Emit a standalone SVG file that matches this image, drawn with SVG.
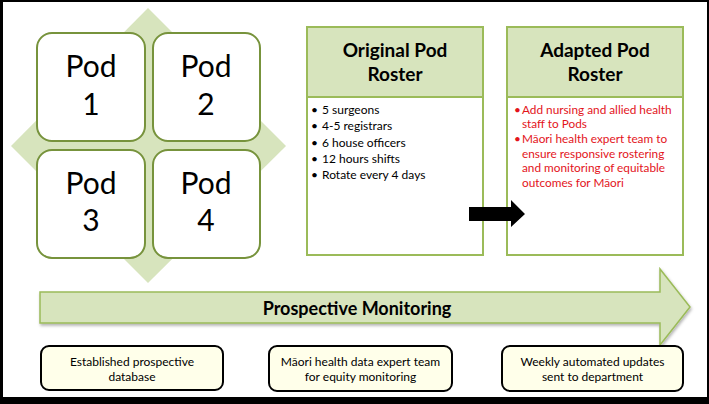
<svg xmlns="http://www.w3.org/2000/svg" width="709" height="404" viewBox="0 0 709 404">
<defs>
<style>
.pod{fill:#FFFFFF;stroke:#77933C;stroke-width:2}
.podt{font-family:Lato,"Open Sans",sans-serif;font-size:30px;fill:#000;text-anchor:middle}
.hdr{fill:#D7E4BD;stroke:#9BBB59;stroke-width:2}
.body{fill:#fff;stroke:#9BBB59;stroke-width:2}
.ht{font-family:Lato,"Open Sans",sans-serif;font-size:19px;font-weight:bold;fill:#000;text-anchor:middle}
.li{font-family:Lato,"Open Sans",sans-serif;font-size:12px;fill:#000}
.lr{font-family:Lato,"Open Sans",sans-serif;font-size:11.8px;fill:#E3141B}
.bx{fill:#FFFFEA;stroke:#000;stroke-width:2}
.bt{font-family:Lato,"Open Sans",sans-serif;font-size:12px;fill:#000;text-anchor:middle}
</style>
<filter id="sh" x="-5%" y="-20%" width="110%" height="150%">
<feDropShadow dx="1" dy="2" stdDeviation="1.5" flood-color="#000" flood-opacity="0.3"/>
</filter>
</defs>
<rect x="0" y="0" width="709" height="404" fill="#000"/>
<rect x="3" y="2" width="704" height="395" fill="#fff"/>

<g id="diamond">
<polygon points="148,8 286,146 148,283 11,146" fill="#D7E4BD"/>
</g>
<g id="pod1">
<rect class="pod" x="37" y="33" width="108" height="108" rx="15" fill="#FFFFFF"/>
<text class="podt" x="91" y="77">Pod</text>
<text class="podt" x="91" y="115">1</text>
</g>
<g id="pod2">
<rect class="pod" x="153" y="33" width="107" height="108" rx="15" fill="#FFFFFF"/>
<text class="podt" x="206" y="77">Pod</text>
<text class="podt" x="206" y="115">2</text>
</g>
<g id="pod3">
<rect class="pod" x="37" y="150" width="108" height="108" rx="15" fill="#FFFFFF"/>
<text class="podt" x="91" y="194">Pod</text>
<text class="podt" x="91" y="231">3</text>
</g>
<g id="pod4">
<rect class="pod" x="153" y="150" width="107" height="108" rx="15" fill="#FFFFFF"/>
<text class="podt" x="206" y="194">Pod</text>
<text class="podt" x="206" y="231">4</text>
</g>

<g id="original">
<rect class="body" x="307" y="97" width="176" height="158"/>
<rect class="hdr" x="307" y="27" width="176" height="70"/>
<text class="ht" x="395" y="57">Original Pod</text>
<text class="ht" x="395" y="81">Roster</text>
<g class="li">
<text x="311" y="114">•</text><text x="322" y="114">5 surgeons</text>
<text x="311" y="130">•</text><text x="322" y="130">4-5 registrars</text>
<text x="311" y="146.5">•</text><text x="322" y="146.5">6 house officers</text>
<text x="311" y="163">•</text><text x="322" y="163">12 hours shifts</text>
<text x="311" y="179">•</text><text x="322" y="179">Rotate every 4 days</text>
</g>
</g>

<g id="adapted">
<rect class="body" x="507" y="97" width="176" height="158"/>
<rect class="hdr" x="507" y="27" width="176" height="70"/>
<text class="ht" x="595" y="57">Adapted Pod</text>
<text class="ht" x="595" y="81">Roster</text>
<g class="lr">
<text x="514" y="114">•</text><text x="522" y="114">Add nursing and allied health</text>
<text x="522" y="128">staff to Pods</text>
<text x="514" y="143">•</text><text x="522" y="143">Māori health expert team to</text>
<text x="522" y="158">ensure responsive rostering</text>
<text x="522" y="172">and monitoring of equitable</text>
<text x="522" y="186.5">outcomes for Māori</text>
</g>
</g>

<g id="connectors">
<polygon points="469,207 511,207 511,200 525,214 511,227 511,221 469,221" fill="#000"/>
</g>

<g id="monitoring">
<polygon points="40,292 660,292 660,269 690,307 660,345 660,323 40,323" fill="#D7E4BD" stroke="#9BBB59" stroke-width="1.5" filter="url(#sh)"/>
<text x="357" y="315" font-family="Lato,'Open Sans',sans-serif" font-size="18px" font-weight="bold" text-anchor="middle" fill="#000">Prospective Monitoring</text>
</g>

<g id="box1">
<rect class="bx" x="41" y="346" width="182" height="44" rx="8"/>
<text class="bt" x="132" y="366">Established prospective</text>
<text class="bt" x="132" y="381">database</text>
</g>
<g id="box2">
<rect class="bx" x="269" y="346" width="183" height="45" rx="8"/>
<text class="bt" x="360.5" y="366">Māori health data expert team</text>
<text class="bt" x="360.5" y="381">for equity monitoring</text>
</g>
<g id="box3">
<rect class="bx" x="502" y="346" width="181" height="45" rx="8"/>
<text class="bt" x="592.5" y="366">Weekly automated updates</text>
<text class="bt" x="592.5" y="381">sent to department</text>
</g>
</svg>
